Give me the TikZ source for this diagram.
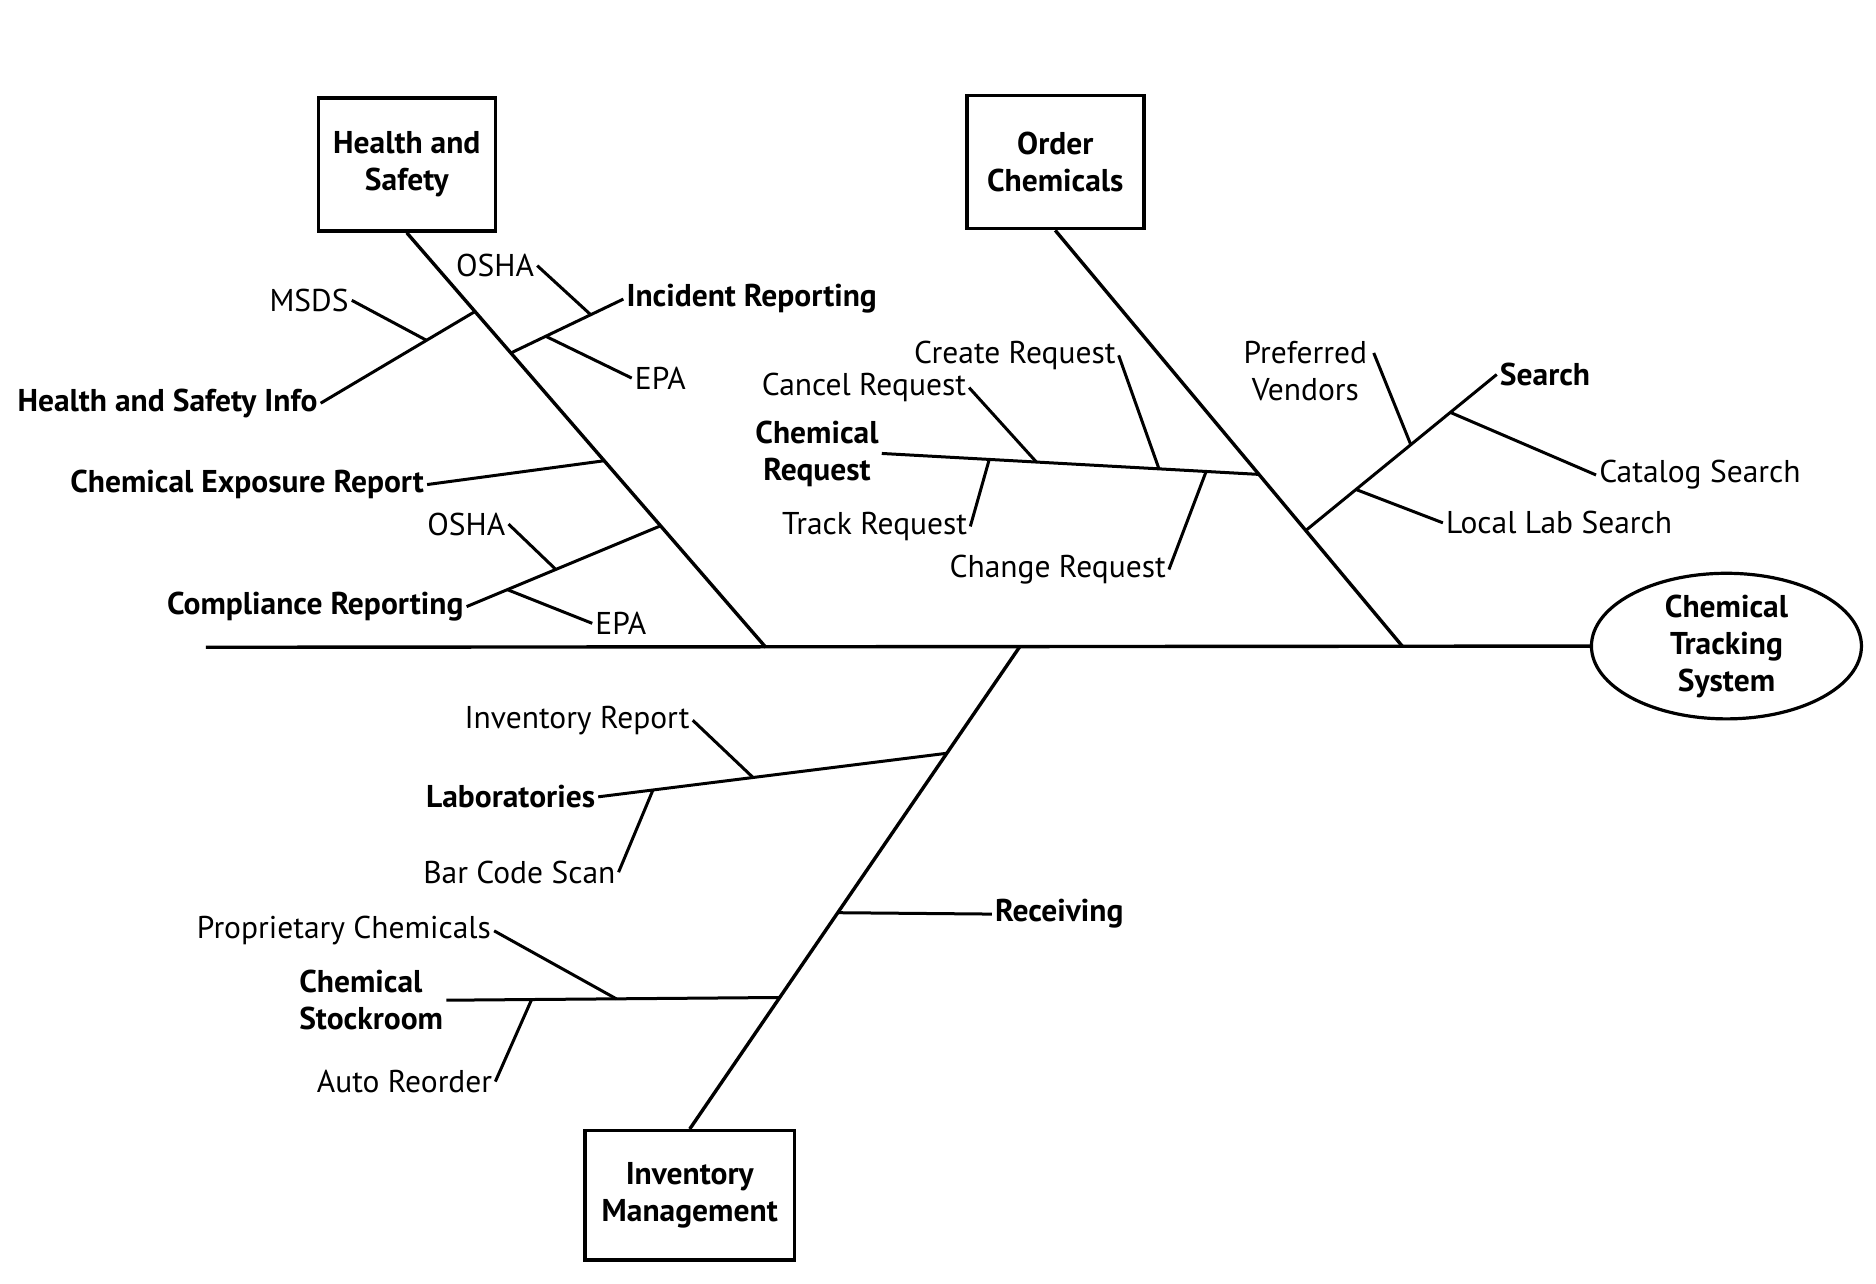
\documentclass[tikz,border=0pt]{standalone}
\usepackage{fontspec}
\setmainfont{PT Sans}
\usetikzlibrary{calc,shapes.geometric}
\begin{document}
\begin{tikzpicture}[x=1.1964pt,y=-1.1964pt,
  bone/.style={line width=3.4pt},
  sub/.style={line width=3pt},
  lab/.style={font=\fontsize{31.5}{37}\selectfont, inner sep=3pt},
  blab/.style={font=\fontsize{31.5}{37}\selectfont\bfseries, inner sep=3pt},
  boxn/.style={draw, line width=3.5pt, font=\fontsize{31.5}{37}\selectfont\bfseries, align=center, inner sep=0pt},
  elln/.style={draw, ellipse, line width=3.2pt, font=\fontsize{31.5}{37}\selectfont\bfseries, align=center, inner sep=0pt, minimum width=270pt, minimum height=144pt}]
\useasboundingbox (0,0) rectangle (1568,1073);

% main boxes
\node[boxn, minimum width=177pt, minimum height=133pt] (hs) at (340,137.5) {Health and\\Safety};
\node[boxn, minimum width=177pt, minimum height=133pt] (oc) at (882,135.5) {Order\\Chemicals};
\node[boxn, minimum width=209pt, minimum height=129pt] (im) at (576.5,999) {Inventory\\Management};
\node[elln] (cts) at (1443,540) {Chemical\\Tracking\\System};

% spine and bones
\coordinate (sl) at (172,541);
\coordinate (hsB) at (640,541);
\coordinate (ocB) at (1172,540);
\coordinate (imT) at (852,541);
\draw[bone] (sl) -- (cts.west);
\draw[bone] (hs.south) -- (hsB);
\draw[bone] (oc.south) -- (ocB);
\draw[bone] (imT) -- (im.north);

% ---------- Health and Safety ----------
\coordinate (jHSI) at ($(hs.south)!0.19!(hsB)$);
\coordinate (jInc) at ($(hs.south)!0.29!(hsB)$);
\coordinate (jCER) at ($(hs.south)!0.55!(hsB)$);
\coordinate (jComp) at ($(hs.south)!0.707!(hsB)$);

\node[blab, anchor=east] (hsi) at (268,337) {Health and Safety Info};
\node[lab, anchor=east] (msds) at (294,251) {MSDS};
\node[lab, anchor=east] (osha1) at (449,222) {OSHA};
\node[blab, anchor=west] (inc) at (521,250) {Incident Reporting};
\node[lab, anchor=west] (epa1) at (528,316) {EPA};
\node[blab, anchor=east] (cer) at (357,405) {Chemical Exposure Report};
\node[lab, anchor=east] (osha2) at (425,438) {OSHA};
\node[blab, anchor=east] (comp) at (390,507) {Compliance Reporting};
\node[lab, anchor=west] (epa2) at (495,521) {EPA};

\draw[sub] (hsi.east) -- (jHSI);
\coordinate (jMSDS) at ($(hsi.east)!0.686!(jHSI)$);
\draw[sub] (msds.east) -- (jMSDS);
\draw[sub] (jInc) -- (inc.west);
\coordinate (jOsha1) at ($(jInc)!0.71!(inc.west)$);
\coordinate (jEpa1) at ($(jInc)!0.31!(inc.west)$);
\draw[sub] (osha1.east) -- (jOsha1);
\draw[sub] (jEpa1) -- (epa1.west);
\draw[sub] (cer.east) -- (jCER);
\draw[sub] (jComp) -- (comp.east);
\coordinate (jOsha2) at ($(jComp)!0.54!(comp.east)$);
\coordinate (jEpa2) at ($(jComp)!0.79!(comp.east)$);
\draw[sub] (osha2.east) -- (jOsha2);
\draw[sub] (jEpa2) -- (epa2.west);

% ---------- Order Chemicals ----------
\coordinate (jCR) at ($(oc.south)!0.587!(ocB)$);
\coordinate (jS) at ($(oc.south)!0.722!(ocB)$);

\node[blab, anchor=east, align=center] (cr) at (737,379) {Chemical\\Request};
\node[lab, anchor=east] (cancel) at (810,324) {Cancel Request};
\node[lab, anchor=east] (create) at (935,297) {Create Request};
\node[lab, anchor=east] (track) at (811,440) {Track Request};
\node[lab, anchor=east] (change) at (977,476) {Change Request};
\node[blab, anchor=west] (search) at (1251,313) {Search};
\node[lab, align=center] (pv) at (1091,310) {Preferred\\Vendors};
\node[lab, anchor=west] (cat) at (1334,397) {Catalog Search};
\node[lab, anchor=west] (local) at (1206,437) {Local Lab Search};

\draw[sub] (cr.east) -- (jCR);
\coordinate (jCancel) at ($(cr.east)!0.41!(jCR)$);
\coordinate (jCreate) at ($(cr.east)!0.735!(jCR)$);
\coordinate (jTrack) at ($(cr.east)!0.285!(jCR)$);
\coordinate (jChange) at ($(cr.east)!0.86!(jCR)$);
\draw[sub] (cancel.east) -- (jCancel);
\draw[sub] (create.east) -- (jCreate);
\draw[sub] (track.east) -- (jTrack);
\draw[sub] (change.east) -- (jChange);

\draw[sub] (jS) -- (search.west);
\coordinate (jPV) at ($(jS)!0.55!(search.west)$);
\coordinate (jCat) at ($(jS)!0.757!(search.west)$);
\coordinate (jLocal) at ($(jS)!0.263!(search.west)$);
\coordinate (pvE) at ([shift={(3,-15)}]pv.east);
\draw[sub] (pvE) -- (jPV);
\draw[sub] (jCat) -- (cat.west);
\draw[sub] (jLocal) -- (local.west);

% ---------- Inventory Management ----------
\coordinate (jLab) at ($(imT)!0.22!(im.north)$);
\coordinate (jRec) at ($(imT)!0.551!(im.north)$);
\coordinate (jStock) at ($(imT)!0.727!(im.north)$);

\node[blab, anchor=east] (labs) at (500,666) {Laboratories};
\node[lab, anchor=east] (invrep) at (579,602) {Inventory Report};
\node[lab, anchor=east] (bar) at (517,729) {Bar Code Scan};
\node[blab, anchor=west] (rec) at (829,764) {Receiving};
\node[blab, anchor=east, align=left] (stock) at (373,836) {Chemical\\Stockroom};
\node[lab, anchor=east] (prop) at (413,778) {Proprietary Chemicals};
\node[lab, anchor=east] (auto) at (414,904) {Auto Reorder};

\draw[sub] (labs.east) -- (jLab);
\coordinate (jIR) at ($(labs.east)!0.444!(jLab)$);
\coordinate (jBar) at ($(labs.east)!0.157!(jLab)$);
\draw[sub] (invrep.east) -- (jIR);
\draw[sub] (bar.east) -- (jBar);
\draw[sub] (jRec) -- (rec.west);
\draw[sub] (stock.east) -- (jStock);
\coordinate (jProp) at ($(stock.east)!0.51!(jStock)$);
\coordinate (jAuto) at ($(stock.east)!0.256!(jStock)$);
\draw[sub] (prop.east) -- (jProp);
\draw[sub] (auto.east) -- (jAuto);
\end{tikzpicture}
\end{document}
